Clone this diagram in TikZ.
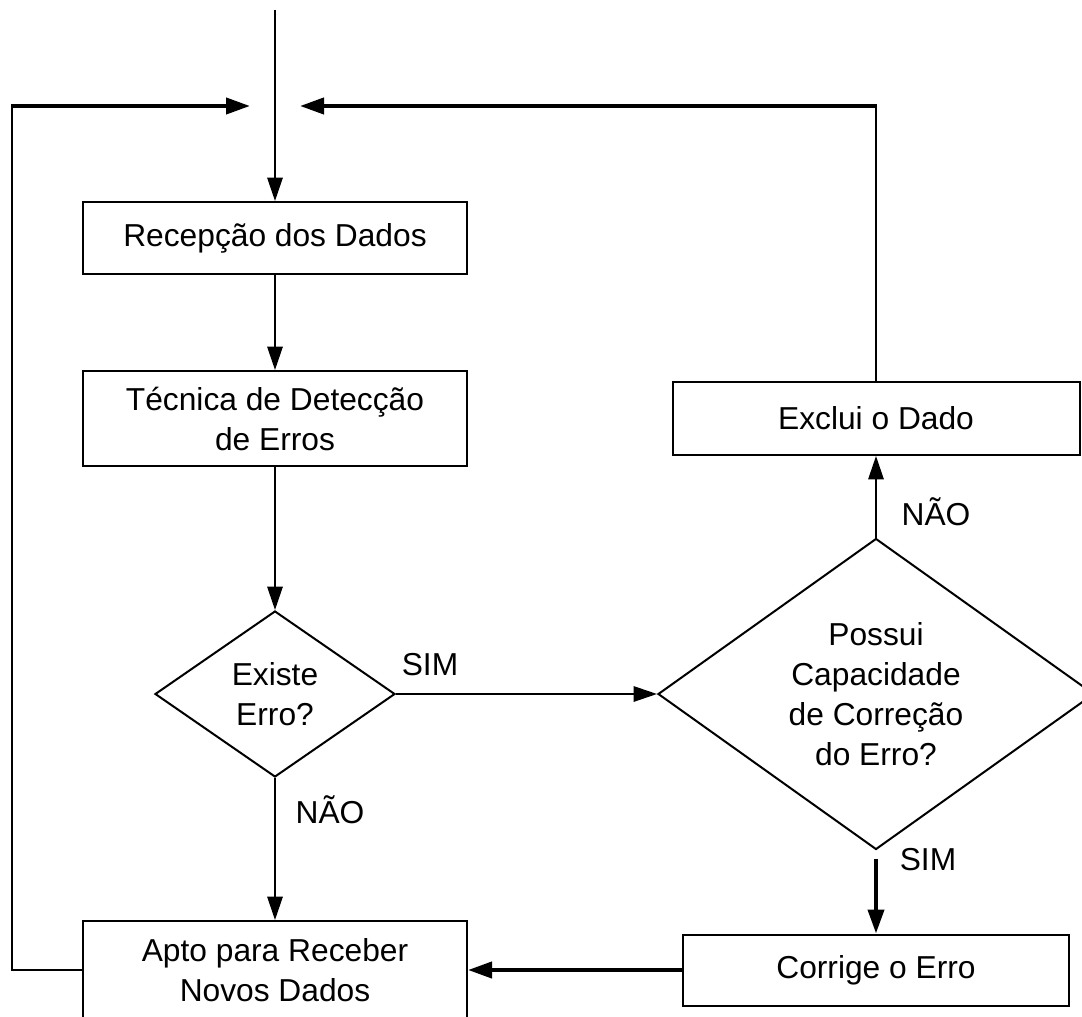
\documentclass[tikz,border=0pt]{standalone}
\usepackage{fontspec}
\setmainfont{Liberation Sans}
\usetikzlibrary{arrows.meta,shapes.geometric}
\newcommand\fsz{\fontsize{23.8pt}{30pt}\selectfont}
\begin{document}
\begin{tikzpicture}[x=0.75pt,y=-0.75pt,
  boxst/.style={draw,line width=1.5pt,rectangle,font=\fsz,align=center,inner sep=0pt},
  decst/.style={draw,line width=1.5pt,diamond,aspect=1.4,font=\fsz,align=center,inner sep=0pt},
  lab/.style={font=\fsz,inner sep=0pt},
  thinline/.style={line width=1.5pt},
  thickline/.style={line width=3pt},
  arr/.style={thinline,-{Triangle[length=17.5pt,width=11.5pt]}},
  tarr/.style={thickline,-{Triangle[length=18pt,width=12pt]}}]
\useasboundingbox (0,0) rectangle (1082,1017);
\clip (0,0) rectangle (1082,1017);
\fill[white] (0,0) rectangle (1082,1017);

\node[boxst,minimum width=288pt,minimum height=54pt] (rec) at (275,238) {Recepção dos Dados};
\node[boxst,minimum width=288pt,minimum height=71.25pt] (tec) at (275,418.5) {Técnica de Detecção\\de Erros};
\node[decst,minimum width=180pt,minimum height=124.5pt] (exi) at (275,694) {Existe\\Erro?};
\node[boxst,minimum width=288pt,minimum height=73.5pt] (apto) at (275,970) {Apto para Receber\\Novos Dados};
\node[decst,minimum width=327pt,minimum height=233.25pt] (big) at (876,694) {Possui\\Capacidade\\de Correção\\do Erro?};
\node[boxst,minimum width=305.25pt,minimum height=54.75pt] (exc) at (876,418.5) {Exclui o Dado};
\node[boxst,minimum width=289.5pt,minimum height=53.25pt] (cor) at (876,970) {Corrige o Erro};

\node[lab] (sim1) at (430,665) {SIM};
\node[lab] (nao1) at (330,810) {NÃO};
\node[lab] (nao2) at (936,512) {NÃO};
\node[lab] (sim2) at (928,860) {SIM};

\coordinate (top) at (275,10);
\coordinate (lin) at (250,106);
\coordinate (rin) at (300,106);
\coordinate (lcorner) at (12,106);
\coordinate (rcorner) at (876,106);

\draw[arr] (top) -- (rec.north);
\draw[arr] (rec) -- (tec);
\draw[arr] (tec) -- (exi);
\draw[arr] (exi.east) -- (big.west);
\draw[arr] (exi.south) -- (apto.north);
\draw[arr] (big.north) -- (exc.south);
\draw[tarr] ([yshift=-6]big.south) -- (cor.north);
\draw[tarr] (cor.west) -- (apto.east);
\draw[thinline] (apto.west) -| (lcorner);
\draw[tarr] ([xshift=-0.75]lcorner) -- (lin);
\draw[thinline] (exc.north) |- (rcorner);
\draw[tarr] ([xshift=0.75]rcorner) -- (rin);
\end{tikzpicture}
\end{document}
